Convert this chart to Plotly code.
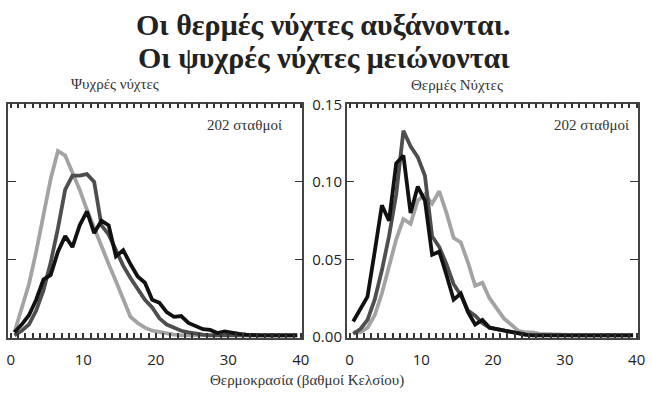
import plotly.graph_objects as go

# Bin centres (degrees Celsius)
TEMPS = [0.5, 1.5, 2.5, 3.5, 4.5, 5.5, 6.5, 7.5, 8.5, 9.5,
         10.5, 11.5, 12.5, 13.5, 14.5, 15.5, 16.5, 17.5, 18.5, 19.5,
         20.5, 21.5, 22.5, 23.5, 24.5, 25.5, 26.5, 27.5, 28.5, 29.5,
         30.5, 31.5, 32.5, 33.5, 34.5, 35.5, 36.5, 37.5, 38.5, 39.5]

# Cold nights (left panel)
COLD_LIGHT = [0.003, 0.019, 0.034, 0.055, 0.080, 0.102, 0.120, 0.117, 0.106, 0.095,
              0.082, 0.070, 0.058, 0.047, 0.036, 0.025, 0.013, 0.009, 0.006, 0.004,
              0.003, 0.002, 0.0015, 0.001, 0.001, 0.001, 0.001, 0.001, 0.001, 0.001,
              0.001, 0.001, 0.001, 0.001, 0.001, 0.001, 0.001, 0.001, 0.001, 0.001]
COLD_DARK = [0.001, 0.004, 0.008, 0.017, 0.030, 0.048, 0.070, 0.095, 0.104, 0.104,
             0.105, 0.100, 0.072, 0.066, 0.056, 0.046, 0.038, 0.031, 0.024, 0.019,
             0.012, 0.008, 0.006, 0.004, 0.003, 0.002, 0.0015, 0.001, 0.001, 0.001,
             0.001, 0.001, 0.001, 0.001, 0.001, 0.001, 0.001, 0.001, 0.001, 0.001]
COLD_BLACK = [0.003, 0.008, 0.014, 0.024, 0.037, 0.040, 0.055, 0.065, 0.058, 0.072,
              0.081, 0.067, 0.075, 0.072, 0.052, 0.056, 0.047, 0.039, 0.035, 0.024,
              0.022, 0.016, 0.013, 0.0135, 0.009, 0.007, 0.005, 0.0045, 0.0025, 0.0035,
              0.0025, 0.002, 0.0015, 0.001, 0.001, 0.001, 0.001, 0.001, 0.001, 0.001]

# Warm nights (right panel)
WARM_LIGHT = [0.003, 0.003, 0.006, 0.014, 0.028, 0.045, 0.063, 0.076, 0.073, 0.088,
              0.092, 0.086, 0.094, 0.080, 0.064, 0.061, 0.048, 0.033, 0.035, 0.025,
              0.018, 0.012, 0.008, 0.004, 0.003, 0.003, 0.002, 0.002, 0.0015, 0.0015,
              0.001, 0.001, 0.001, 0.001, 0.001, 0.001, 0.001, 0.001, 0.001, 0.001]
WARM_DARK = [0.002, 0.005, 0.011, 0.024, 0.043, 0.065, 0.092, 0.133, 0.123, 0.116,
             0.104, 0.065, 0.058, 0.047, 0.034, 0.027, 0.017, 0.0137, 0.009, 0.006,
             0.005, 0.004, 0.003, 0.002, 0.0015, 0.001, 0.001, 0.001, 0.001, 0.001,
             0.001, 0.001, 0.001, 0.001, 0.001, 0.001, 0.001, 0.001, 0.001, 0.001]
WARM_BLACK = [0.010, 0.018, 0.026, 0.055, 0.085, 0.075, 0.112, 0.117, 0.080, 0.097,
              0.088, 0.053, 0.055, 0.040, 0.024, 0.028, 0.016, 0.008, 0.011, 0.006,
              0.005, 0.004, 0.003, 0.002, 0.0015, 0.001, 0.001, 0.001, 0.001, 0.001,
              0.001, 0.001, 0.001, 0.001, 0.001, 0.001, 0.001, 0.001, 0.001, 0.001]

# x ticks every degree, labelled every ten
X_TICKS = [0, 1, 2, 3, 4, 5, 6, 7, 8, 9, 10, 11, 12, 13, 14, 15, 16, 17, 18, 19, 20,
           21, 22, 23, 24, 25, 26, 27, 28, 29, 30, 31, 32, 33, 34, 35, 36, 37, 38, 39, 40]
X_TICK_TEXT = ["0", "", "", "", "", "", "", "", "", "", "10", "", "", "", "", "", "", "", "", "",
               "20", "", "", "", "", "", "", "", "", "", "30", "", "", "", "", "", "", "", "", "",
               "40"]
Y_TICKS = [0.0, 0.05, 0.10, 0.15]
Y_TICK_TEXT = ["0.00", "0.05", "0.10", "0.15"]

TITLE_1 = "Οι θερμές νύχτες αυξάνονται."
TITLE_2 = "Οι ψυχρές νύχτες μειώνονται"
LEFT_LABEL = "Ψυχρές νύχτες"
RIGHT_LABEL = "Θερμές Νύχτες"
STATIONS = "202 σταθμοί"
X_TITLE = "Θερμοκρασία (βαθμοί Κελσίου)"

COLORS = {"light": "#a3a3a3", "dark": "#4e4e4e", "black": "#111111"}
LW = 3.8

W, H = 652, 404

fig = go.Figure()

for series, col in [(COLD_LIGHT, "light"), (COLD_DARK, "dark"), (COLD_BLACK, "black")]:
    fig.add_trace(go.Scatter(x=TEMPS, y=series, mode="lines", xaxis="x", yaxis="y",
                             line=dict(color=COLORS[col], width=LW), showlegend=False))
for series, col in [(WARM_LIGHT, "light"), (WARM_DARK, "dark"), (WARM_BLACK, "black")]:
    fig.add_trace(go.Scatter(x=TEMPS, y=series, mode="lines", xaxis="x2", yaxis="y2",
                             line=dict(color=COLORS[col], width=LW), showlegend=False))

tick_font = dict(family="Open Sans", size=15, color="#222")
ydom = [1 - 343 / H, 1 - 98 / H]
XR = [-0.4, 40.2]

xcommon = dict(range=XR, tickmode="array", tickvals=X_TICKS, ticktext=X_TICK_TEXT,
               ticks="inside", ticklen=5, tickwidth=1.6, tickcolor="#333",
               showline=True, linecolor="#444", linewidth=1.5, mirror="allticks",
               showgrid=False, zeroline=False, tickfont=tick_font,
               ticklabelstandoff=8)
ycommon = dict(range=[-0.0005, 0.1505], tickvals=Y_TICKS, ticktext=Y_TICK_TEXT,
               ticks="inside", ticklen=8, tickwidth=1.4, tickcolor="#333",
               showline=True, linecolor="#444", linewidth=1.5, mirror="ticks",
               showgrid=False, zeroline=False, tickfont=tick_font)

ann_font = dict(family="Liberation Serif", size=15, color="#333")

fig.update_layout(
    width=W, height=H,
    margin=dict(l=0, r=0, t=0, b=0),
    paper_bgcolor="white", plot_bgcolor="white",
    xaxis=dict(domain=[7 / W, 305 / W], anchor="y", **xcommon),
    yaxis=dict(domain=ydom, anchor="x", showticklabels=False, **ycommon),
    xaxis2=dict(domain=[350 / W, 645 / W], anchor="y2", **xcommon),
    yaxis2=dict(domain=ydom, anchor="x2", showticklabels=True, **ycommon),
    annotations=[
        dict(text="<b>" + TITLE_1 + "</b>", x=327 / W, y=1 - 15 / H, xref="paper",
             yref="paper", xanchor="center", yanchor="middle", showarrow=False,
             font=dict(family="Liberation Serif", size=30, color="#222")),
        dict(text="<b>" + TITLE_2 + "</b>", x=327 / W, y=1 - 50 / H, xref="paper",
             yref="paper", xanchor="center", yanchor="middle", showarrow=False,
             font=dict(family="Liberation Serif", size=30, color="#222")),
        dict(text=LEFT_LABEL, x=115 / W, y=1 - 77 / H, xref="paper", yref="paper",
             xanchor="center", yanchor="middle", showarrow=False, font=ann_font),
        dict(text=RIGHT_LABEL, x=462 / W, y=1 - 79 / H, xref="paper", yref="paper",
             xanchor="center", yanchor="middle", showarrow=False, font=ann_font),
        dict(text=STATIONS, x=247 / W, y=1 - 120 / H, xref="paper", yref="paper",
             xanchor="center", yanchor="middle", showarrow=False, font=ann_font),
        dict(text=STATIONS, x=598 / W, y=1 - 120 / H, xref="paper", yref="paper",
             xanchor="center", yanchor="middle", showarrow=False, font=ann_font),
        dict(text=X_TITLE, x=310 / W, y=1 - 388 / H, xref="paper", yref="paper",
             xanchor="center", yanchor="middle", showarrow=False, font=ann_font),
    ],
)

fig.write_html("out.html")
